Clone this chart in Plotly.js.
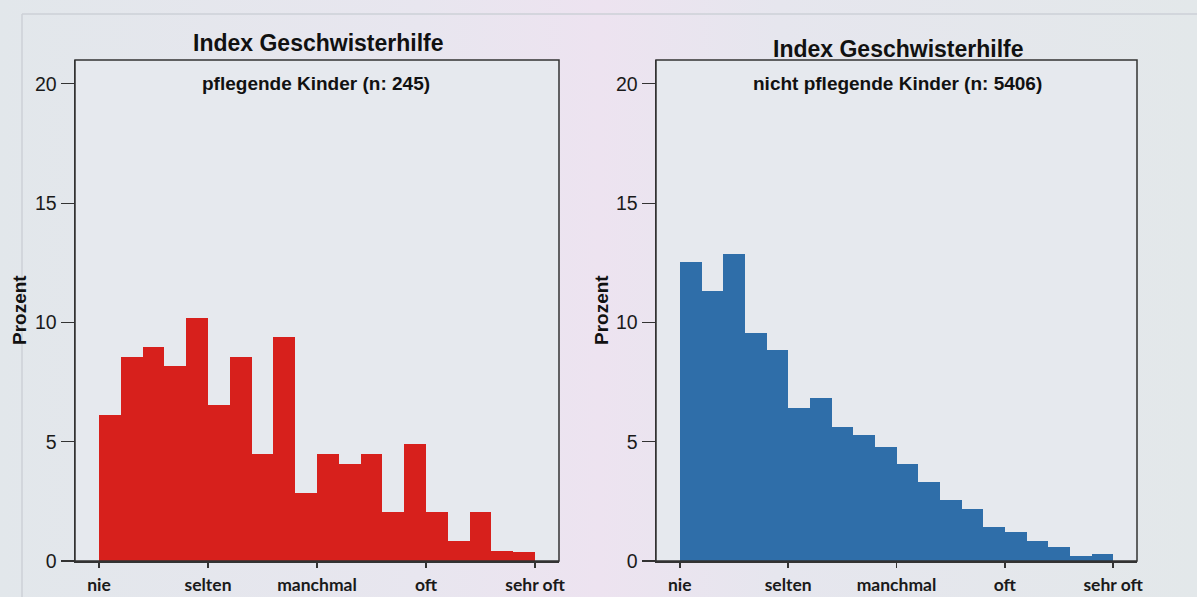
<!DOCTYPE html>
<html>
<head>
<meta charset="utf-8">
<script src="https://cdn.plot.ly/plotly-3.0.1.min.js"></script>
<style>
html,body{margin:0;padding:0;}
body{width:1197px;height:597px;background:linear-gradient(90deg,#e2e7eb 0%,#e8e6ef 35%,#ede3f0 50%,#e6e6ee 65%,#e3e8ea 100%);}
#chart{width:1197px;height:597px;}
</style>
</head>
<body>
<div id="chart"></div>
<script>
// Category tick labels (scale positions 0..4)
const tickLabels = ["nie", "selten", "manchmal", "oft", "sehr oft"];
const tickPositions = [0, 1, 2, 3, 4];
const yTicks = [0, 5, 10, 15, 20];
const binWidth = 0.2;

// Percentages per bin (20 bins)
const pflegendeKinder = [6.12, 8.57, 8.98, 8.16, 10.20, 6.53, 8.57, 4.49, 9.39, 2.86,
                         4.49, 4.08, 4.49, 2.04, 4.90, 2.04, 0.82, 2.04, 0.41, 0.37];
const nichtPflegendeKinder = [12.53, 11.31, 12.88, 9.56, 8.83, 6.40, 6.84, 5.63, 5.29, 4.78,
                              4.08, 3.32, 2.57, 2.18, 1.43, 1.21, 0.82, 0.59, 0.21, 0.28];

const titleMain = "Index Geschwisterhilfe";
const subLeft = "pflegende Kinder (n: 245)";
const subRight = "nicht pflegende Kinder (n: 5406)";
const yTitle = "Prozent";

const binCenters = pflegendeKinder.map((_, i) => i * binWidth + binWidth / 2);

const W = 1197, H = 597;
const px = v => v / W;
const py = v => 1 - v / H;

const traces = [
  {type: "bar", x: binCenters, y: pflegendeKinder, width: binWidth,
   marker: {color: "#d7201c", line: {width: 0}}, xaxis: "x", yaxis: "y", hoverinfo: "y"},
  {type: "bar", x: binCenters, y: nichtPflegendeKinder, width: binWidth,
   marker: {color: "#2f6ea9", line: {width: 0}}, xaxis: "x2", yaxis: "y2", hoverinfo: "y"}
];

function xax(domain, anchor) {
  return {domain: domain, anchor: anchor, range: [-0.22, 4.22], tickvals: tickPositions, ticktext: tickLabels,
    ticks: "outside", ticklen: 5, tickwidth: 1.5, tickcolor: "#333", showline: true, mirror: false,
    linecolor: "#333", linewidth: 1.5, showgrid: false, zeroline: false, fixedrange: true,
    ticklabelstandoff: 2,
    tickfont: {family: "Lato, 'Open Sans', sans-serif", size: 17.5, color: "#1a1a1a", weight: "bold"}};
}
function yax(domain, anchor) {
  return {domain: domain, anchor: anchor, range: [0, 21], tickvals: yTicks,
    ticks: "outside", ticklen: 13, tickwidth: 1.2, tickcolor: "#333", showline: true, mirror: false,
    linecolor: "#333", linewidth: 1.5, showgrid: false, zeroline: false, fixedrange: true,
    ticklabelstandoff: 0,
    tickfont: {family: "'Liberation Sans', Arial, sans-serif", size: 19.5, color: "#1a1a1a"}};
}

const yDom = [1 - 561 / H, 1 - 60 / H];

function ann(text, x, y, size, angle) {
  return {text: text, xref: "paper", yref: "paper", x: px(x), y: py(y), xanchor: "center", yanchor: "middle",
    showarrow: false, textangle: angle || 0,
    font: {family: "'Liberation Sans', Arial, sans-serif", size: size, color: "#111", weight: "bold"}};
}
function frame(xr, yr) {
  return {type: "rect", xref: xr + " domain", yref: yr + " domain", x0: 0, x1: 1, y0: 0, y1: 1,
    line: {color: "#333", width: 1.5}, fillcolor: "rgba(0,0,0,0)", layer: "above"};
}

const layout = {
  width: W, height: H,
  margin: {l: 0, r: 0, t: 0, b: 0},
  paper_bgcolor: "rgba(0,0,0,0)",
  plot_bgcolor: "#e6e9ee",
  showlegend: false,
  bargap: 0,
  xaxis: xax([px(75), px(559)], "y"),
  yaxis: yax(yDom, "x"),
  xaxis2: xax([px(656), px(1137)], "y2"),
  yaxis2: yax(yDom, "x2"),
  shapes: [
    {type: "line", xref: "paper", yref: "paper", x0: px(22), x1: 1, y0: py(14), y1: py(14),
     line: {color: "#cdd1d7", width: 1.5}},
    {type: "line", xref: "paper", yref: "paper", x0: px(22), x1: px(22), y0: 0, y1: py(14),
     line: {color: "#cdd1d7", width: 1.5}},
    frame("x", "y"),
    frame("x2", "y2")
  ],
  annotations: [
    ann(titleMain, 318, 43, 23),
    ann(titleMain, 898, 49, 23),
    ann(subLeft, 316, 84, 19),
    ann(subRight, 897, 83, 19),
    ann(yTitle, 19, 310, 19, -90),
    ann(yTitle, 601, 310, 19, -90)
  ]
};

Plotly.newPlot("chart", traces, layout, {displayModeBar: false, staticPlot: true});
</script>
</body>
</html>
